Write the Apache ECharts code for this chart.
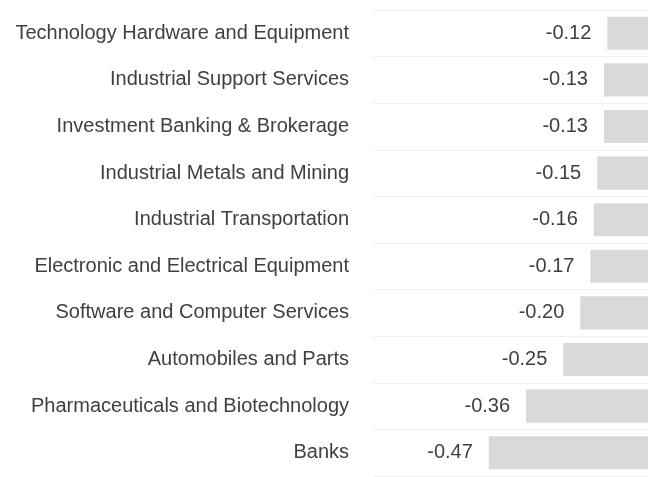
<!DOCTYPE html>
<html>
<head>
<meta charset="utf-8">
<script src="https://cdn.jsdelivr.net/npm/echarts@6/dist/echarts.min.js"></script>
<style>
html,body{margin:0;padding:0;background:#fff;}
#chart{width:648px;height:477px;}
</style>
</head>
<body>
<div id="chart"></div>
<script>
const categories = [
  "Technology Hardware and Equipment",
  "Industrial Support Services",
  "Investment Banking & Brokerage",
  "Industrial Metals and Mining",
  "Industrial Transportation",
  "Electronic and Electrical Equipment",
  "Software and Computer Services",
  "Automobiles and Parts",
  "Pharmaceuticals and Biotechnology",
  "Banks"
];
const values = [-0.12, -0.13, -0.13, -0.15, -0.16, -0.17, -0.20, -0.25, -0.36, -0.47];

const chart = echarts.init(document.getElementById('chart'), null, {renderer: 'canvas'});
chart.setOption({
  animation: false,
  backgroundColor: '#ffffff',
  grid: {left: 373, right: 0, top: 10, bottom: 1, containLabel: false},
  xAxis: {
    type: 'value',
    min: -0.812,
    max: 0,
    show: false
  },
  yAxis: {
    type: 'category',
    data: categories,
    inverse: true,
    axisLine: {show: false},
    axisTick: {show: false},
    splitLine: {show: true, lineStyle: {color: '#f0f0f0', width: 1}},
    axisLabel: {
      margin: 24,
      color: '#404040',
      fontFamily: 'Liberation Sans, Arial, sans-serif',
      fontSize: 20
    }
  },
  series: [{
    type: 'bar',
    data: values,
    barWidth: '71%',
    itemStyle: {color: '#d9d9d9'},
    label: {
      show: true,
      position: 'left',
      distance: 16,
      color: '#404040',
      fontFamily: 'Liberation Sans, Arial, sans-serif',
      fontSize: 20,
      formatter: p => p.value.toFixed(2)
    }
  }]
});
</script>
</body>
</html>
